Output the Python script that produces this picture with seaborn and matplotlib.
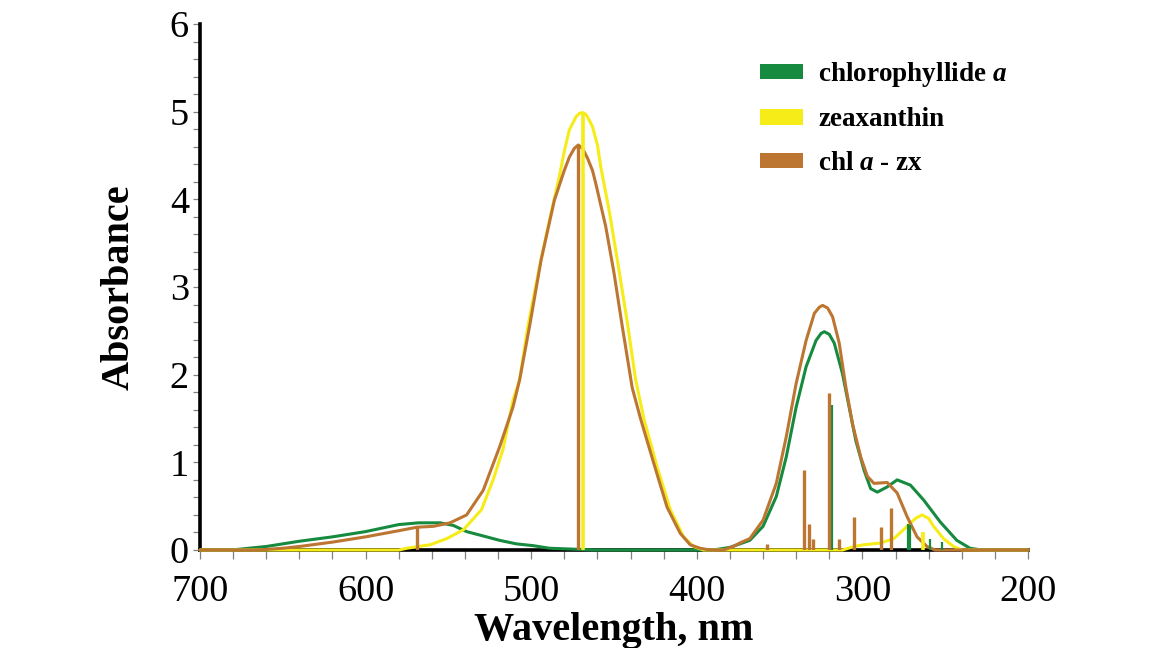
import pandas as pd
import matplotlib
matplotlib.use("Agg")
import matplotlib.pyplot as plt
import seaborn as sns
from matplotlib.patches import Patch
from matplotlib.ticker import MultipleLocator

# --- spectra (wavelength nm, absorbance) ---
chl_nm = [700, 681, 660, 640, 620, 600, 580, 568, 555, 547, 539, 529, 519, 509, 499, 489, 475, 462,
          390, 380, 368, 360, 352, 346, 340, 334, 328, 325, 323, 320, 317, 312, 308, 304, 299, 295, 291,
          285, 279, 271, 263, 253, 243, 235, 228, 200]
chl_abs = [0, 0, 0.04, 0.10, 0.15, 0.21, 0.29, 0.31, 0.31, 0.28, 0.21, 0.16, 0.11, 0.07, 0.05, 0.02, 0.01, 0,
           0, 0.03, 0.11, 0.27, 0.61, 1.06, 1.63, 2.09, 2.39, 2.47, 2.49, 2.46, 2.36, 2.01, 1.63, 1.25, 0.91, 0.70,
           0.66, 0.72, 0.80, 0.74, 0.57, 0.32, 0.11, 0.02, 0, 0]

zx_nm = [700, 580, 575, 561, 551, 541, 530, 523, 517, 511, 507, 502, 495, 489, 483, 480, 477, 473, 471,
         469, 467, 466, 463, 460, 458, 453, 448, 442, 437, 432, 424, 416, 408, 402, 396, 312, 305, 299,
         289, 281, 273, 268, 264, 260, 257, 251, 245, 240, 200]
zx_abs = [0, 0, 0.02, 0.06, 0.13, 0.23, 0.46, 0.80, 1.15, 1.71, 1.94, 2.55, 3.23, 3.76, 4.26, 4.55, 4.79, 4.94, 4.98,
          4.99, 4.97, 4.94, 4.83, 4.62, 4.37, 3.88, 3.31, 2.60, 1.95, 1.50, 0.95, 0.46, 0.15, 0.04, 0, 0, 0.04, 0.06,
          0.08, 0.13, 0.27, 0.36, 0.40, 0.36, 0.27, 0.13, 0.04, 0, 0]

mix_nm = [700, 665, 650, 640, 620, 600, 580, 569, 559, 549, 539, 529, 519, 511, 507, 501, 494, 486, 480,
          477, 474, 471.6, 469, 466, 463, 461, 455, 450, 445, 439, 434, 426, 418, 410, 404, 398, 392, 384,
          378, 374, 368, 360, 352, 346, 340, 334, 329, 326, 324, 321, 318, 314, 310, 306, 301, 297, 293,
          285, 279, 273, 267, 261, 256, 200]
mix_abs = [0, 0, 0.02, 0.04, 0.09, 0.15, 0.22, 0.26, 0.27, 0.31, 0.40, 0.68, 1.18, 1.63, 1.94, 2.55, 3.31, 3.99, 4.33,
           4.48, 4.58, 4.62, 4.58, 4.47, 4.33, 4.18, 3.69, 3.16, 2.55, 1.85, 1.50, 0.99, 0.49, 0.19, 0.06, 0.02, 0, 0,
           0.04, 0.08, 0.13, 0.34, 0.76, 1.29, 1.90, 2.39, 2.70, 2.77, 2.79, 2.76, 2.66, 2.36, 1.86, 1.44, 1.06, 0.84,
           0.76, 0.77, 0.65, 0.38, 0.15, 0.04, 0, 0]

# --- calculated transitions (sticks) ---
chl_stick_nm = [318.6, 272.5, 271, 259, 252]
chl_stick_h = [1.65, 0.30, 0.28, 0.12, 0.095]
zx_stick_nm = [469, 263.6]
zx_stick_h = [4.99, 0.21]
mix_stick_nm = [569, 471.6, 357.8, 335.5, 332.2, 330, 320, 314.1, 305.3, 288.5, 282.8]
mix_stick_h = [0.26, 4.62, 0.07, 0.91, 0.30, 0.13, 1.79, 0.12, 0.38, 0.26, 0.475]

names = ["chlorophyllide a", "zeaxanthin", "chl a - zx"]
colors = {"chlorophyllide a": "#168a3f", "zeaxanthin": "#f5ec18", "chl a - zx": "#bd7631"}

df = pd.concat([
    pd.DataFrame({"nm": chl_nm, "abs": chl_abs, "pigment": names[0]}),
    pd.DataFrame({"nm": zx_nm, "abs": zx_abs, "pigment": names[1]}),
    pd.DataFrame({"nm": mix_nm, "abs": mix_abs, "pigment": names[2]}),
])

sns.set_style("white")
plt.rcParams["font.family"] = ["Liberation Serif", "DejaVu Serif"]
plt.rcParams["mathtext.fontset"] = "custom"
plt.rcParams["mathtext.rm"] = "Liberation Serif:bold"
plt.rcParams["mathtext.it"] = "Liberation Serif:italic:bold"
plt.rcParams["text.color"] = "black"
plt.rcParams["axes.labelcolor"] = "black"
plt.rcParams["xtick.color"] = "black"
plt.rcParams["ytick.color"] = "black"

fig = plt.figure(figsize=(11.51, 6.48), dpi=100)
ax = fig.add_axes([200 / 1151, 98 / 648, 828 / 1151, 526 / 648])

sns.lineplot(data=df, x="nm", y="abs", hue="pigment", hue_order=names, palette=colors,
             estimator=None, sort=False, linewidth=2.2, legend=False, ax=ax,
             zorder=3, clip_on=False)

ax.vlines(chl_stick_nm, 0, chl_stick_h, colors=colors[names[0]], linewidth=1.6, zorder=4)
ax.vlines(zx_stick_nm, 0, zx_stick_h, colors=colors[names[1]], linewidth=2.6, zorder=4)
ax.vlines(mix_stick_nm, 0, mix_stick_h, colors=colors[names[2]], linewidth=2.4, zorder=4)

ax.set_xlim(700, 200)
ax.set_ylim(0, 6)
ax.set_xticks([700, 600, 500, 400, 300, 200])
ax.set_yticks([0, 1, 2, 3, 4, 5, 6])
ax.xaxis.set_minor_locator(MultipleLocator(20))
ax.yaxis.set_minor_locator(MultipleLocator(0.2))

for side in ["top", "right"]:
    ax.spines[side].set_visible(False)
for side in ["left", "bottom"]:
    ax.spines[side].set_color("black")
    ax.spines[side].set_linewidth(2.6)

ax.tick_params(axis="both", which="both", direction="out", color="#808080", width=0.9,
               bottom=True, left=True, labelcolor="black")
ax.tick_params(axis="x", which="both", length=6.5, pad=11, labelsize=27.5)
ax.tick_params(axis="y", which="both", length=5, pad=3, labelsize=27.5)

ax.set_xlabel("Wavelength, nm", fontsize=29, fontweight="bold")
ax.set_ylabel("Absorbance", fontsize=29, fontweight="bold")
ax.xaxis.set_label_coords(0.5, -0.118)
ax.yaxis.set_label_coords(-0.075, 0.5)

handles = [Patch(facecolor=colors[n], edgecolor="none") for n in names]
labels = [r"chlorophyllide $a$", "zeaxanthin", r"chl $a$ - zx"]
ax.legend(handles, labels, loc="upper left", bbox_to_anchor=(760 / 1151, 1 - 60 / 648),
          bbox_transform=fig.transFigure, frameon=False, borderaxespad=0, borderpad=0,
          handlelength=1.6, handleheight=0.5, handletextpad=0.55, labelspacing=0.68,
          prop={"family": "Liberation Serif", "weight": "bold", "size": 19.5})

fig.savefig("out.png", dpi=100)
